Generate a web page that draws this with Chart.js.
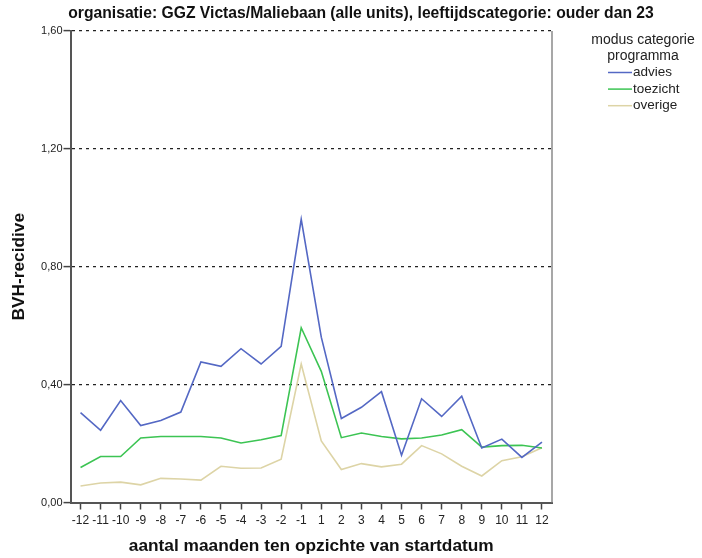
<!DOCTYPE html>
<html>
<head>
<meta charset="utf-8">
<script src="https://cdn.jsdelivr.net/npm/chart.js@4.4.1/dist/chart.umd.min.js"></script>
<style>
  html, body { margin: 0; padding: 0; background: #fff; }
  #wrap { width: 702px; height: 558px; }
</style>
</head>
<body>
<div id="wrap"><canvas id="grafiek" width="702" height="558"></canvas></div>
<script>
// maanden t.o.v. startdatum
var maanden = ['-12', '-11', '-10', '-9', '-8', '-7', '-6', '-5', '-4', '-3', '-2', '-1',
  '1', '2', '3', '4', '5', '6', '7', '8', '9', '10', '11', '12'];

var advies = [0.305, 0.245, 0.346, 0.261, 0.278, 0.307, 0.477, 0.462, 0.522, 0.470, 0.530, 0.961,
  0.561, 0.285, 0.323, 0.376, 0.160, 0.352, 0.292, 0.361, 0.185, 0.215, 0.153, 0.205];
var toezicht = [0.119, 0.156, 0.156, 0.219, 0.224, 0.224, 0.224, 0.219, 0.202, 0.213, 0.227, 0.593,
  0.445, 0.220, 0.236, 0.224, 0.216, 0.219, 0.229, 0.247, 0.188, 0.193, 0.194, 0.185];
var overige = [0.056, 0.066, 0.069, 0.060, 0.082, 0.080, 0.076, 0.123, 0.116, 0.117, 0.147, 0.470,
  0.209, 0.112, 0.132, 0.121, 0.130, 0.193, 0.165, 0.123, 0.090, 0.142, 0.155, 0.186];

var yTicks = [0, 0.4, 0.8, 1.2, 1.6];

var titel = 'organisatie: GGZ Victas/Maliebaan (alle units), leeftijdscategorie: ouder dan 23';
var legendaTitel = ['modus categorie', 'programma'];

var FONT = "'Liberation Sans', Arial, sans-serif";

// titel, rechter rand en legenda (SPSS-stijl)
var extraPlugin = {
  id: 'extra',
  afterDraw: function (chart) {
    var ctx = chart.ctx, a = chart.chartArea;
    ctx.save();
    // rechter rand van het plotvlak
    ctx.strokeStyle = '#8a8a8a';
    ctx.lineWidth = 1.5;
    ctx.beginPath();
    ctx.moveTo(a.right, a.top);
    ctx.lineTo(a.right, a.bottom);
    ctx.stroke();

    // titel
    ctx.fillStyle = '#111';
    ctx.font = 'bold 15.7px ' + FONT;
    ctx.textAlign = 'center';
    ctx.textBaseline = 'middle';
    ctx.fillText(titel, 361, 14);

    // legenda
    ctx.fillStyle = '#222';
    ctx.font = '14px ' + FONT;
    ctx.fillText(legendaTitel[0], 643, 40);
    ctx.fillText(legendaTitel[1], 643, 56);
    ctx.textAlign = 'left';
    ctx.font = '13.5px ' + FONT;
    chart.data.datasets.forEach(function (ds, i) {
      var y = 72.5 + i * 16.6;
      ctx.strokeStyle = ds.borderColor;
      ctx.lineWidth = 1.5;
      ctx.beginPath();
      ctx.moveTo(608, y);
      ctx.lineTo(632, y);
      ctx.stroke();
      ctx.fillText(ds.label, 633, y);
    });
    ctx.restore();
  }
};

var ctx = document.getElementById('grafiek');
var myChart = new Chart(ctx, {
  type: 'line',
  data: {
    labels: maanden,
    datasets: [{
      label: 'advies',
      data: advies,
      borderColor: '#5468c4',
      backgroundColor: '#5468c4'
    }, {
      label: 'toezicht',
      data: toezicht,
      borderColor: '#3cc453',
      backgroundColor: '#3cc453'
    }, {
      label: 'overige',
      data: overige,
      borderColor: '#ddd4a6',
      backgroundColor: '#ddd4a6'
    }]
  },
  options: {
    responsive: false,
    animation: false,
    devicePixelRatio: 1,
    layout: { padding: { left: 0, right: 150, top: 31, bottom: 0 } },
    elements: {
      line: { borderWidth: 1.6, tension: 0 },
      point: { radius: 0 }
    },
    plugins: {
      legend: { display: false },
      tooltip: { enabled: false },
      title: { display: false }
    },
    scales: {
      x: {
        type: 'category',
        offset: true,
        grid: {
          offset: false,
          drawOnChartArea: false,
          tickLength: 7,
          tickColor: '#444',
          tickWidth: 1.5
        },
        border: { color: '#555', width: 2 },
        ticks: {
          color: '#222',
          font: { family: FONT, size: 12 },
          padding: 4,
          maxRotation: 0,
          autoSkip: false
        },
        title: {
          display: true,
          text: 'aantal maanden ten opzichte van startdatum',
          color: '#111',
          font: { family: FONT, size: 17.3, weight: 'bold' },
          padding: { top: 0, bottom: 1 }
        },
        afterFit: function (scale) { scale.height = 55.5; }
      },
      y: {
        min: 0,
        max: 1.6,
        afterBuildTicks: function (scale) {
          scale.ticks = yTicks.map(function (v) { return { value: v }; });
        },
        grid: {
          color: function (c) { return c.tick && c.tick.value === 0 ? 'rgba(0,0,0,0)' : '#222'; },
          lineWidth: 1.2,
          tickLength: 7,
          tickColor: '#444',
          tickWidth: 1.5,
          tickBorderDash: []
        },
        border: { color: '#555', width: 2, dash: [3, 4] },
        ticks: {
          color: '#222',
          font: { family: FONT, size: 11 },
          padding: 1,
          callback: function (v) { return Number(v).toFixed(2).replace('.', ','); }
        },
        title: {
          display: true,
          text: 'BVH-recidive',
          color: '#111',
          font: { family: FONT, size: 17.3, weight: 'bold' },
          padding: { top: 8.6, bottom: 0 }
        },
        afterFit: function (scale) { scale.width = 70.5; }
      }
    }
  },
  plugins: [extraPlugin]
});
</script>
</body>
</html>
